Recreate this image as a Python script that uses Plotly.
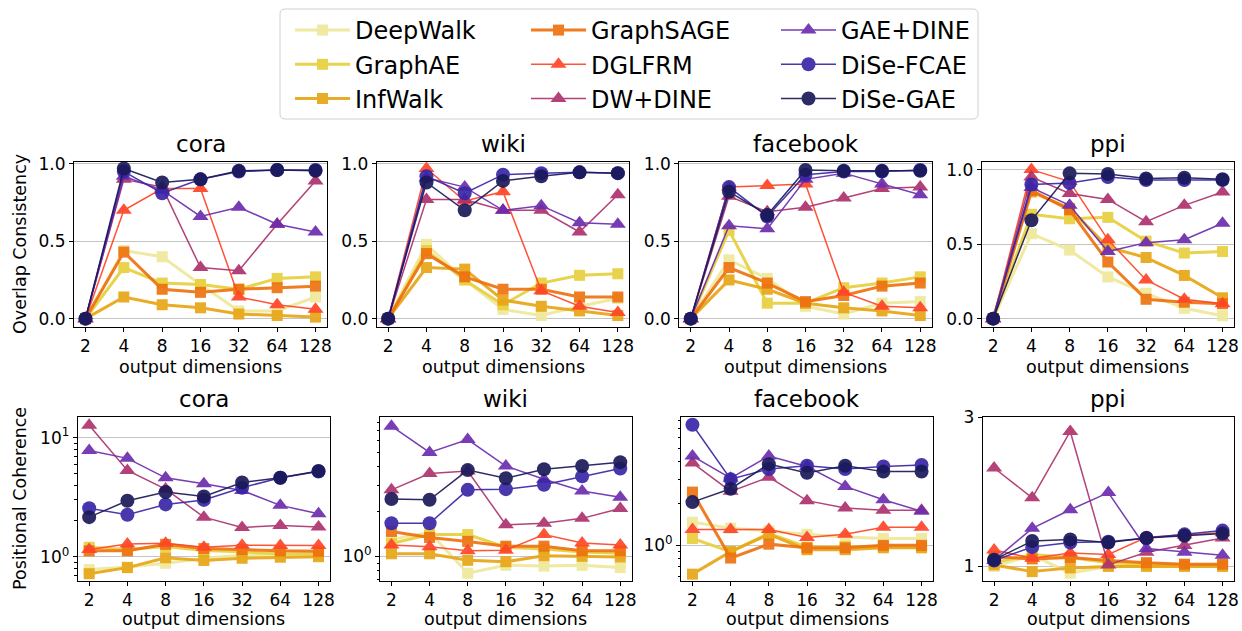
import plotly.graph_objects as go

W, H = 1242, 631

dims = ["2", "4", "8", "16", "32", "64", "128"]
methods = ["DeepWalk", "GraphAE", "InfWalk", "GraphSAGE", "DGLFRM",
           "DW+DINE", "GAE+DINE", "DiSe-FCAE", "DiSe-GAE"]
datasets = ["cora", "wiki", "facebook", "ppi"]

colors = ["#EEE89B", "#E8CF3D", "#E8A617", "#EE7212", "#FF4628",
          "#AD336E", "#6D2DAF", "#3A27A6", "#1B1A5A"]
symbols = ["square"] * 4 + ["triangle-up"] * 3 + ["circle"] * 2
line_widths = [3] * 4 + [1.5] * 5
marker_sizes = [11] * 4 + [14] * 3 + [14] * 2

# Overlap consistency, one row per method (order of `methods`)
overlap_cora = [
    [0, 0.44, 0.40, 0.22, 0.05, 0.05, 0.14],
    [0, 0.33, 0.23, 0.22, 0.19, 0.26, 0.27],
    [0, 0.14, 0.09, 0.07, 0.03, 0.02, 0.01],
    [0, 0.43, 0.19, 0.17, 0.19, 0.20, 0.21],
    [0, 0.70, 0.84, 0.84, 0.14, 0.09, 0.06],
    [0, 0.90, 0.85, 0.33, 0.31, 0.61, 0.89],
    [0, 0.92, 0.83, 0.66, 0.72, 0.61, 0.56],
    [0, 0.95, 0.81, 0.90, 0.95, 0.96, 0.96],
    [0, 0.97, 0.88, 0.90, 0.955, 0.96, 0.955],
]
overlap_wiki = [
    [0, 0.48, 0.25, 0.06, 0.02, 0.08, 0.13],
    [0, 0.44, 0.25, 0.09, 0.23, 0.28, 0.29],
    [0, 0.33, 0.32, 0.12, 0.08, 0.05, 0.02],
    [0, 0.42, 0.27, 0.19, 0.19, 0.14, 0.14],
    [0, 0.97, 0.76, 0.82, 0.18, 0.08, 0.04],
    [0, 0.77, 0.77, 0.70, 0.70, 0.56, 0.80],
    [0, 0.91, 0.85, 0.70, 0.73, 0.62, 0.61],
    [0, 0.92, 0.81, 0.93, 0.94, 0.945, 0.94],
    [0, 0.88, 0.70, 0.89, 0.92, 0.945, 0.94],
]
overlap_facebook = [
    [0, 0.38, 0.26, 0.08, 0.03, 0.10, 0.11],
    [0, 0.57, 0.10, 0.10, 0.20, 0.23, 0.27],
    [0, 0.25, 0.19, 0.10, 0.07, 0.05, 0.02],
    [0, 0.33, 0.23, 0.11, 0.15, 0.21, 0.23],
    [0, 0.85, 0.86, 0.87, 0.17, 0.08, 0.07],
    [0, 0.79, 0.69, 0.72, 0.78, 0.84, 0.85],
    [0, 0.60, 0.58, 0.90, 0.94, 0.87, 0.80],
    [0, 0.85, 0.66, 0.93, 0.95, 0.95, 0.96],
    [0, 0.82, 0.67, 0.96, 0.955, 0.955, 0.955],
]
overlap_ppi = [
    [0, 0.57, 0.46, 0.28, 0.17, 0.07, 0.02],
    [0, 0.70, 0.67, 0.68, 0.52, 0.44, 0.45],
    [0, 0.85, 0.74, 0.48, 0.41, 0.29, 0.14],
    [0, 0.86, 0.73, 0.38, 0.13, 0.11, 0.10],
    [0, 1.00, 0.92, 0.53, 0.26, 0.13, 0.10],
    [0, 0.95, 0.84, 0.80, 0.65, 0.76, 0.85],
    [0, 0.88, 0.76, 0.45, 0.51, 0.53, 0.64],
    [0, 0.90, 0.91, 0.95, 0.93, 0.93, 0.93],
    [0, 0.66, 0.975, 0.97, 0.94, 0.945, 0.935],
]

# Positional coherence, one row per method
coherence_cora = [
    [0.78, 0.82, 0.88, 0.97, 1.03, 1.02, 1.03],
    [1.20, 1.15, 1.22, 1.13, 1.10, 1.06, 1.06],
    [0.72, 0.81, 0.98, 0.93, 0.97, 0.99, 1.00],
    [1.12, 1.12, 1.27, 1.17, 1.15, 1.12, 1.11],
    [1.15, 1.28, 1.30, 1.20, 1.25, 1.24, 1.24],
    [12.7, 5.3, 3.7, 2.15, 1.76, 1.83, 1.78],
    [7.8, 6.7, 4.6, 4.1, 3.6, 2.7, 2.3],
    [2.55, 2.25, 2.75, 3.0, 3.8, 4.6, 5.2],
    [2.15, 2.95, 3.5, 3.2, 4.2, 4.6, 5.25],
]
coherence_wiki = [
    [1.30, 1.45, 0.77, 0.87, 0.86, 0.87, 0.84],
    [1.22, 1.40, 1.40, 1.15, 1.12, 1.07, 1.05],
    [1.04, 1.04, 0.94, 0.92, 1.01, 1.00, 0.99],
    [1.47, 1.34, 1.26, 1.17, 1.17, 1.09, 1.09],
    [1.19, 1.16, 1.09, 1.10, 1.40, 1.23, 1.19],
    [2.8, 3.6, 3.75, 1.63, 1.67, 1.8, 2.1],
    [7.5, 5.0, 6.1, 4.05, 3.3, 2.75, 2.5],
    [1.67, 1.67, 2.8, 2.83, 3.03, 3.45, 3.9],
    [2.43, 2.4, 3.8, 3.35, 3.85, 4.05, 4.3],
]
coherence_facebook = [
    [1.47, 1.33, 1.27, 1.20, 1.15, 1.12, 1.12],
    [1.12, 0.90, 1.22, 0.97, 0.98, 0.98, 0.97],
    [0.62, 0.90, 1.20, 0.93, 0.93, 0.96, 0.96],
    [2.42, 0.81, 1.02, 0.96, 0.96, 1.00, 1.00],
    [1.30, 1.30, 1.30, 1.14, 1.20, 1.35, 1.35],
    [3.93, 2.45, 3.1, 2.1, 1.86, 1.79, 1.79],
    [4.4, 3.05, 4.4, 3.7, 2.66, 2.13, 1.76],
    [7.4, 3.0, 3.55, 3.75, 3.55, 3.7, 3.8],
    [2.05, 2.56, 3.85, 3.33, 3.75, 3.4, 3.4],
]
coherence_ppi = [
    [1.00, 1.15, 0.91, 1.00, 1.02, 1.00, 1.00],
    [1.05, 1.16, 1.12, 1.05, 1.03, 1.02, 1.02],
    [1.02, 0.93, 0.98, 1.00, 1.00, 1.00, 1.00],
    [1.13, 1.10, 1.12, 1.08, 1.05, 1.03, 1.03],
    [1.22, 1.11, 1.18, 1.16, 1.39, 1.42, 1.45],
    [2.32, 1.92, 2.81, 1.02, 1.19, 1.28, 1.38],
    [1.08, 1.51, 1.76, 1.99, 1.24, 1.19, 1.15],
    [1.08, 1.26, 1.32, 1.33, 1.38, 1.43, 1.48],
    [1.09, 1.34, 1.36, 1.32, 1.38, 1.41, 1.44],
]

panels = [overlap_cora, overlap_wiki, overlap_facebook, overlap_ppi,
          coherence_cora, coherence_wiki, coherence_facebook, coherence_ppi]

# Panel frames in pixels: (left, right, top, bottom)
frames = [
    (74, 327, 162, 326.7), (376.7, 629.3, 162, 326.7),
    (679.3, 931.7, 162, 326.7), (981.7, 1234, 162, 326.7),
    (77.7, 330, 417.3, 581), (380, 631.7, 417.3, 581),
    (681, 933, 417.3, 581), (982.7, 1234, 417.3, 581),
]

FONT = "DejaVu Sans"
legend_of = ["legend"] * 3 + ["legend2"] * 3 + ["legend3"] * 3

fig = go.Figure()

for p, data in enumerate(panels):
    n = p + 1
    xa = "x" if n == 1 else f"x{n}"
    ya = "y" if n == 1 else f"y{n}"
    for m, name in enumerate(methods):
        fig.add_trace(go.Scatter(
            x=dims, y=data[m], name=name, mode="lines+markers",
            xaxis=xa, yaxis=ya,
            line=dict(color=colors[m], width=line_widths[m]),
            marker=dict(symbol=symbols[m], size=marker_sizes[m], color=colors[m],
                        line=dict(width=0)),
            opacity=0.92,
            showlegend=(p == 0), legend=legend_of[m],
        ))

axis_common = dict(showline=True, linecolor="black", linewidth=1, mirror=True,
                   ticks="outside", ticklen=4, tickwidth=1, tickcolor="black",
                   tickfont=dict(family=FONT, size=17, color="black"),
                   automargin=False)

minor_log = [0.5, 0.6, 0.7, 0.8, 0.9, 2, 3, 4, 5, 6, 7, 8, 9, 20]

layout = {}
for p in range(8):
    n = p + 1
    l, r, t, b = frames[p]
    xkey = "xaxis" if n == 1 else f"xaxis{n}"
    ykey = "yaxis" if n == 1 else f"yaxis{n}"
    layout[xkey] = dict(axis_common, domain=[l / W, r / W], type="category",
                        range=[-0.3, 6.3], showgrid=False,
                        anchor="y" if n == 1 else f"y{n}")
    ydict = dict(axis_common, domain=[1 - b / H, 1 - t / H],
                 anchor="x" if n == 1 else f"x{n}",
                 showgrid=True, gridcolor="#c4c4c4", gridwidth=1, zeroline=False)
    if p < 4:
        top = 1.051 if p == 3 else 1.012
        bot = -0.054 if p == 3 else -0.052
        ydict.update(range=[bot, top], tickvals=[0, 0.5, 1.0],
                     ticktext=["0.0", "0.5", "1.0"])
    elif p == 7:
        ydict.update(range=[0.804, 3.0], tickvals=[1, 3], ticktext=["1", "3"])
    else:
        rng = {4: [-0.204, 1.171], 5: [-0.166, 0.935], 6: [-0.257, 0.923]}[p]
        ydict.update(type="log", range=rng, tickvals=[1, 10],
                     ticktext=["10<sup>0</sup>", "10<sup>1</sup>"],
                     minor=dict(ticks="outside", ticklen=2.5, tickwidth=1,
                                tickcolor="black", tickvals=minor_log,
                                showgrid=False))
    layout[ykey] = ydict

annotations = []
for p in range(8):
    l, r, t, b = frames[p]
    annotations.append(dict(
        text=datasets[p % 4], x=(l + r) / 2 / W, y=1 - (t - 3) / H,
        xref="paper", yref="paper", xanchor="center", yanchor="bottom",
        showarrow=False, font=dict(family=FONT, size=23, color="black")))
    ylab = 367 if p < 4 else 619
    annotations.append(dict(
        text="output dimensions", x=(l + r) / 2 / W, y=1 - ylab / H,
        xref="paper", yref="paper", xanchor="center", yanchor="middle",
        showarrow=False, font=dict(family=FONT, size=17.5, color="black")))

annotations.append(dict(
    text="Overlap Consistency", x=20 / W, y=1 - 244 / H, textangle=-90,
    xref="paper", yref="paper", xanchor="center", yanchor="middle",
    showarrow=False, font=dict(family=FONT, size=17.5, color="black")))
annotations.append(dict(
    text="Positional Coherence", x=20 / W, y=1 - 499 / H, textangle=-90,
    xref="paper", yref="paper", xanchor="center", yanchor="middle",
    showarrow=False, font=dict(family=FONT, size=17.5, color="black")))

# Rounded legend frame
x0, x1, y0, y1, rad = 280 / W, 978 / W, 1 - 119 / H, 1 - 9 / H, 5
rx, ry = rad / W, rad / H
frame_path = (f"M{x0 + rx},{y1} L{x1 - rx},{y1} Q{x1},{y1} {x1},{y1 - ry} "
              f"L{x1},{y0 + ry} Q{x1},{y0} {x1 - rx},{y0} L{x0 + rx},{y0} "
              f"Q{x0},{y0} {x0},{y0 + ry} L{x0},{y1 - ry} Q{x0},{y1} {x0 + rx},{y1} Z")

legend_style = dict(orientation="v", xanchor="left", yanchor="top",
                    xref="paper", yref="paper", y=1 - 8 / H,
                    bgcolor="rgba(0,0,0,0)", borderwidth=0, itemwidth=55,
                    font=dict(family=FONT, size=24, color="black"),
                    tracegroupgap=0)

fig.update_layout(
    width=W, height=H,
    margin=dict(l=0, r=0, t=0, b=0),
    paper_bgcolor="white", plot_bgcolor="white",
    font=dict(family=FONT, color="black"),
    annotations=annotations,
    shapes=[dict(type="path", path=frame_path, xref="paper", yref="paper",
                 line=dict(color="#d0d0d0", width=1), fillcolor="white",
                 layer="below")],
    legend=dict(legend_style, x=290 / W),
    legend2=dict(legend_style, x=526 / W),
    legend3=dict(legend_style, x=776 / W),
    **layout,
)

fig.write_html("out.html")
